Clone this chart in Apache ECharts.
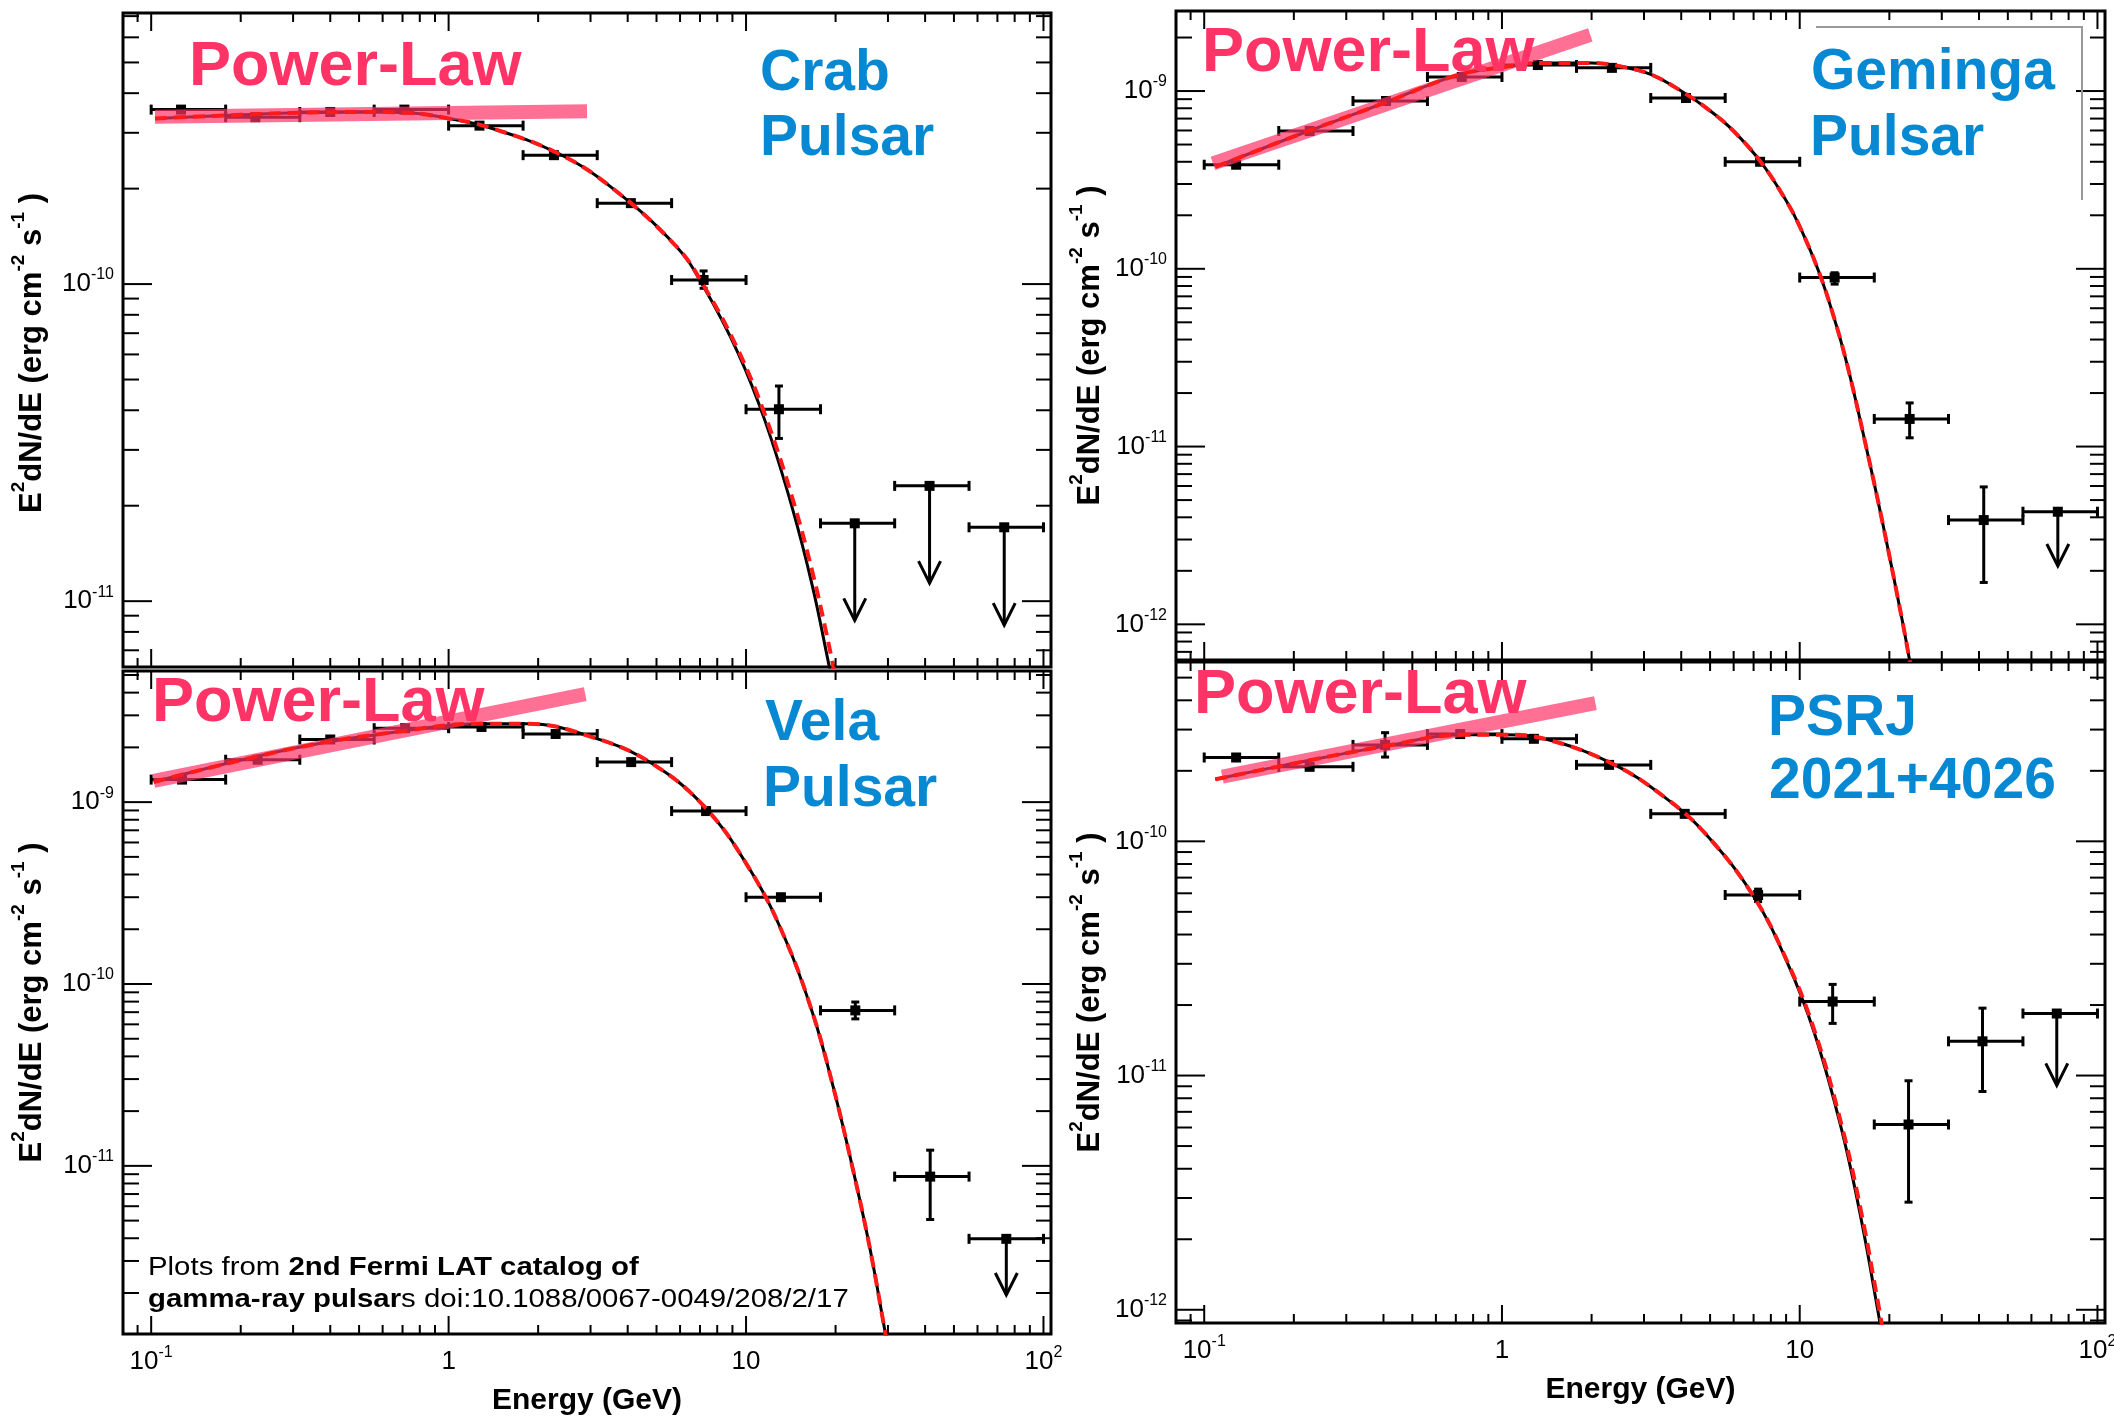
<!DOCTYPE html>
<html><head><meta charset="utf-8">
<script src="https://cdn.jsdelivr.net/npm/echarts@6/dist/echarts.min.js"></script>
<style>html,body{margin:0;padding:0;background:#fff}#c{width:2114px;height:1423px}</style>
</head><body><div id="c"></div>
<script>
// ---------- DATA ----------
const binLo = [0.1, 0.178, 0.316, 0.562, 1, 1.78, 3.16, 5.62, 10, 17.8, 31.6, 56.2];
const binHi = [0.178, 0.316, 0.562, 1, 1.78, 3.16, 5.62, 10, 17.8, 31.6, 56.2, 100];

// Crab Pulsar
const crabE = [0.126, 0.224, 0.40, 0.71, 1.27, 2.26, 4.1, 7.2, 12.9, 23.2, 41.4, 73.8];
const crabF = [3.55e-10, 3.36e-10, 3.49e-10, 3.55e-10, 3.16e-10, 2.55e-10, 1.80e-10, 1.03e-10, 4.03e-11, 1.76e-11, 2.31e-11, 1.71e-11];
const crabFlo = [0, 0, 0, 0, 0, 0, 0, 0.97e-10, 3.26e-11, 0, 0, 0];
const crabFhi = [0, 0, 0, 0, 0, 0, 0, 1.10e-10, 4.77e-11, 0, 0, 0];
const crabUL = [0, 0, 0, 0, 0, 0, 0, 0, 0, 8.7e-12, 1.14e-11, 8.4e-12];
const crabCurveE = [0.103, 0.2, 0.32, 0.5, 0.73, 1.0, 1.35, 2.3, 3.5, 5.85, 7.2, 9.4, 11.6, 14.3, 16.7, 18.8, 20.5];
const crabCurveF = [3.33e-10, 3.42e-10, 3.47e-10, 3.49e-10, 3.47e-10, 3.33e-10, 3.13e-10, 2.6e-10, 2.03e-10, 1.31e-10, 9.8e-11, 6.06e-11, 3.69e-11, 1.97e-11, 1.12e-11, 6.6e-12, 4.4e-12];
const crabDashF = [3.33e-10, 3.42e-10, 3.47e-10, 3.49e-10, 3.47e-10, 3.33e-10, 3.13e-10, 2.6e-10, 2.03e-10, 1.31e-10, 9.9e-11, 6.2e-11, 3.85e-11, 2.12e-11, 1.24e-11, 7.6e-12, 5.1e-12];
const crabBandE = [0.103, 2.92];
const crabBandF = [3.37e-10, 3.51e-10];

// Geminga Pulsar
const gemE = [0.128, 0.226, 0.408, 0.733, 1.32, 2.34, 4.15, 7.36, 13.1, 23.4, 41.5, 73.6];
const gemF = [3.85e-10, 5.96e-10, 8.79e-10, 1.20e-9, 1.40e-9, 1.35e-9, 9.14e-10, 4.0e-10, 8.93e-11, 1.43e-11, 3.86e-12, 4.3e-12];
const gemFlo = [0, 0, 0, 0, 0, 0, 0, 0, 8.2e-11, 1.12e-11, 1.72e-12, 0];
const gemFhi = [0, 0, 0, 0, 0, 0, 0, 0, 9.5e-11, 1.76e-11, 5.93e-12, 0];
const gemUL = [0, 0, 0, 0, 0, 0, 0, 0, 0, 0, 0, 2.13e-12];
const gemCurveE = [0.109, 0.2, 0.4, 0.7, 1.0, 1.4, 2.0, 2.5, 3.16, 4.0, 5.0, 6.0, 7.4, 9.0, 10.0, 11.6, 13.0, 14.5, 16.6, 19.0, 22.1, 23.3, 25];
const gemCurveF = [3.74e-10, 5.55e-10, 8.54e-10, 1.22e-9, 1.36e-9, 1.44e-9, 1.44e-9, 1.377e-9, 1.24e-9, 1.0e-9, 7.74e-10, 5.95e-10, 3.99e-10, 2.42e-10, 1.73e-10, 9.6e-11, 5.4e-11, 2.8e-11, 1.05e-11, 3.7e-12, 1.05e-12, 6.5e-13, 3.3e-13];
const gemBandE = [0.107, 1.98];
const gemBandF = [3.92e-10, 2.07e-9];

// Vela Pulsar
const velaE = [0.127, 0.228, 0.40, 0.714, 1.29, 2.29, 4.11, 7.34, 13.1, 23.3, 41.6, 75];
const velaF = [1.33e-9, 1.71e-9, 2.21e-9, 2.55e-9, 2.59e-9, 2.37e-9, 1.66e-9, 8.93e-10, 3.0e-10, 7.16e-11, 8.73e-12, 3.97e-12];
const velaFlo = [0, 0, 0, 0, 0, 0, 0, 0, 0, 6.43e-11, 5.07e-12, 0];
const velaFhi = [0, 0, 0, 0, 0, 0, 0, 0, 0, 7.96e-11, 1.22e-11, 0];
const velaUL = [0, 0, 0, 0, 0, 0, 0, 0, 0, 0, 0, 1.95e-12];
const velaCurveE = [0.102, 0.308, 0.714, 1.29, 1.84, 3.11, 4.74, 7.22, 10.4, 13.6, 16.8, 19.6, 23, 26.2, 29.4, 31];
const velaCurveF = [1.29e-9, 1.99e-9, 2.47e-9, 2.7e-9, 2.7e-9, 2.25e-9, 1.66e-9, 9.5e-10, 4.15e-10, 1.74e-10, 6.8e-11, 2.75e-11, 9.2e-12, 3.4e-12, 1.2e-12, 7.4e-13];
const velaBandE = [0.102, 2.88];
const velaBandF = [1.31e-9, 3.92e-9];

// PSR J2021+4026
const psrE = [0.128, 0.226, 0.405, 0.724, 1.28, 2.29, 4.11, 7.25, 12.9, 23.2, 41.1, 73];
const psrF = [2.28e-10, 2.08e-10, 2.58e-10, 2.87e-10, 2.74e-10, 2.12e-10, 1.31e-10, 5.9e-11, 2.07e-11, 6.18e-12, 1.4e-11, 1.84e-11];
const psrFlo = [0, 0, 2.29e-10, 2.78e-10, 0, 0, 0, 5.53e-11, 1.67e-11, 2.88e-12, 8.55e-12, 0];
const psrFhi = [0, 0, 2.91e-10, 2.96e-10, 0, 0, 0, 6.25e-11, 2.45e-11, 9.5e-12, 1.94e-11, 0];
const psrUL = [0, 0, 0, 0, 0, 0, 0, 0, 0, 0, 0, 9.08e-12];
const psrCurveE = [0.109, 0.182, 0.405, 0.743, 1.02, 1.39, 2.34, 3.55, 4.85, 6.98, 9.07, 11.2, 13.8, 16.1, 18.3, 19.5];
const psrCurveF = [1.84e-10, 2.1e-10, 2.55e-10, 2.85e-10, 2.85e-10, 2.74e-10, 2.15e-10, 1.53e-10, 1.07e-10, 5.86e-11, 3.05e-11, 1.52e-11, 5.93e-12, 2.42e-12, 9.9e-13, 6.1e-13];
const psrDashF = [1.84e-10, 2.1e-10, 2.55e-10, 2.85e-10, 2.85e-10, 2.74e-10, 2.15e-10, 1.53e-10, 1.07e-10, 5.86e-11, 3.08e-11, 1.56e-11, 6.2e-12, 2.6e-12, 1.08e-12, 6.8e-13];
const psrBandE = [0.115, 2.06];
const psrBandF = [1.89e-10, 3.89e-10];

const xRange = [0.0804, 106];

// ---------- CHART ----------
const FONT = '"Liberation Sans", Arial, Helvetica, sans-serif';
const PINK = '#ff3366';
const BLUE = '#0788d2';
const zip = (a, b) => a.map((v, i) => [v, b[i]]);

const panels = [
  {grid: {left: 123, top: 13, width: 928, height: 654}, yMin: 6.2e-12, yMax: 7.16e-10,
   E: crabE, F: crabF, Flo: crabFlo, Fhi: crabFhi, UL: crabUL,
   cE: crabCurveE, cF: crabCurveF, dF: crabDashF, bE: crabBandE, bF: crabBandF, showX: false, nameGap: 68, nameShift: 26},
  {grid: {left: 1176, top: 11, width: 929, height: 649}, yMin: 6.3e-13, yMax: 2.82e-9,
   E: gemE, F: gemF, Flo: gemFlo, Fhi: gemFhi, UL: gemUL,
   cE: gemCurveE, cF: gemCurveF, dF: gemCurveF, bE: gemBandE, bF: gemBandF, showX: false, nameGap: 63, nameShift: 20},
  {grid: {left: 123, top: 671, width: 928, height: 663}, yMin: 1.19e-12, yMax: 5.26e-9,
   E: velaE, F: velaF, Flo: velaFlo, Fhi: velaFhi, UL: velaUL,
   cE: velaCurveE, cF: velaCurveF, dF: velaCurveF, bE: velaBandE, bF: velaBandF, showX: true, nameGap: 68, nameShift: 0},
  {grid: {left: 1176, top: 662, width: 929, height: 661}, yMin: 8.78e-13, yMax: 5.83e-10,
   E: psrE, F: psrF, Flo: psrFlo, Fhi: psrFhi, UL: psrUL,
   cE: psrCurveE, cF: psrCurveF, dF: psrDashF, bE: psrBandE, bF: psrBandF, showX: true, nameGap: 63, nameShift: 0}
];

function isPow(v) { const l = Math.log10(v); return Math.abs(l - Math.round(l)) < 1e-6; }
function powLabel(v, plain) {
  if (!isPow(v)) return '';
  const e = Math.round(Math.log10(v));
  if (plain && e === 0) return '{n|1}';
  if (plain && e === 1) return '{n|10}';
  return '{n|10}{s|' + e + '}';
}
const labelRich = {
  n: {fontSize: 26, fontFamily: FONT, color: '#000', lineHeight: 34},
  s: {fontSize: 16, fontFamily: FONT, color: '#000', verticalAlign: 'top'}
};

function tickValues(lo, hi) {
  const out = [];
  for (let k = -14; k <= 3; k++) for (let m = 1; m <= 9; m++) {
    const v = m * Math.pow(10, k);
    if (v >= lo && v <= hi) out.push(v);
  }
  return out;
}

function xTickRender(params, api) {
  const v = api.value(0);
  const cs = params.coordSys;
  const px = api.coord([v, api.value(1)])[0];
  if (px < cs.x + 2 || px > cs.x + cs.width - 2) return;
  const len = isPow(v) ? 18 : 9;
  const y0 = cs.y, y1 = cs.y + cs.height;
  const st = {stroke: '#000', lineWidth: 2};
  return {type: 'group', children: [
    {type: 'line', shape: {x1: px, y1: y1, x2: px, y2: y1 - len}, style: st},
    {type: 'line', shape: {x1: px, y1: y0, x2: px, y2: y0 + len}, style: st}
  ]};
}
function yTickRender(params, api) {
  const v = api.value(1);
  const cs = params.coordSys;
  const py = api.coord([api.value(0), v])[1];
  if (py < cs.y + 2 || py > cs.y + cs.height - 2) return;
  const major = isPow(v);
  const lenL = major ? 29 : 16, lenR = major ? 29 : 15;
  const x0 = cs.x, x1 = cs.x + cs.width;
  const st = {stroke: '#000', lineWidth: 2};
  return {type: 'group', children: [
    {type: 'line', shape: {x1: x0, y1: py, x2: x0 + lenL, y2: py}, style: st},
    {type: 'line', shape: {x1: x1, y1: py, x2: x1 - lenR, y2: py}, style: st}
  ]};
}
function makeDataRender(p) {
  return function (params, api) {
    const i = params.dataIndex;
    const E = p.E[i], F = p.F[i];
    const c = api.coord([E, F]);
    const xl = api.coord([binLo[i], F])[0], xr = api.coord([binHi[i], F])[0];
    const st = {stroke: '#000', lineWidth: 3};
    const ch = [];
    ch.push({type: 'line', shape: {x1: xl, y1: c[1], x2: xr, y2: c[1]}, style: st});
    ch.push({type: 'line', shape: {x1: xl, y1: c[1] - 5, x2: xl, y2: c[1] + 5}, style: st});
    ch.push({type: 'line', shape: {x1: xr, y1: c[1] - 5, x2: xr, y2: c[1] + 5}, style: st});
    if (p.Flo[i] > 0) {
      const yl = api.coord([E, p.Flo[i]])[1], yh = api.coord([E, p.Fhi[i]])[1];
      ch.push({type: 'line', shape: {x1: c[0], y1: yl, x2: c[0], y2: yh}, style: st});
      ch.push({type: 'line', shape: {x1: c[0] - 4, y1: yl, x2: c[0] + 4, y2: yl}, style: st});
      ch.push({type: 'line', shape: {x1: c[0] - 4, y1: yh, x2: c[0] + 4, y2: yh}, style: st});
    }
    if (p.UL[i] > 0) {
      const yt = api.coord([E, p.UL[i]])[1];
      ch.push({type: 'line', shape: {x1: c[0], y1: c[1], x2: c[0], y2: yt}, style: st});
      ch.push({type: 'polyline', shape: {points: [[c[0] - 11, yt - 22], [c[0], yt], [c[0] + 11, yt - 22]]},
        style: {stroke: '#000', lineWidth: 3, fill: null}});
    }
    ch.push({type: 'rect', shape: {x: c[0] - 5, y: c[1] - 5, width: 10, height: 10}, style: {fill: '#000'}});
    return {type: 'group', children: ch};
  };
}

const grids = [], xAxes = [], yAxes = [], series = [];
panels.forEach((p, k) => {
  grids.push(Object.assign({show: true, borderColor: '#000', borderWidth: 3, backgroundColor: 'transparent',
    containLabel: false, outerBoundsMode: 'none'}, p.grid));
  xAxes.push({
    type: 'log', gridIndex: k, min: xRange[0], max: xRange[1], logBase: 10,
    axisLine: {show: false}, axisTick: {show: false}, splitLine: {show: false}, minorTick: {show: false},
    axisLabel: {show: p.showX, margin: 11, formatter: v => powLabel(v, true), rich: labelRich, showMinLabel: true, showMaxLabel: true, hideOverlap: false},
    name: p.showX ? 'Energy (GeV)' : '', nameLocation: 'middle', nameGap: 52,
    nameTextStyle: {fontFamily: FONT, fontWeight: 'bold', fontSize: 30, color: '#000', verticalAlign: 'top'}
  });
  yAxes.push({
    type: 'log', gridIndex: k, min: p.yMin, max: p.yMax, logBase: 10,
    axisLine: {show: false}, axisTick: {show: false}, splitLine: {show: false},
    axisLabel: {margin: 9, formatter: v => powLabel(v, false), rich: labelRich, hideOverlap: false},
    name: '{b|E}{s|2}{b|dN/dE (erg cm}{s|-2}{b| s}{s|-1}{b| )}' + (p.nameShift ? '{g| }' : ''),
    nameLocation: 'middle', nameRotate: 90, nameGap: p.nameGap,
    nameTextStyle: {
      rich: {
        b: {fontFamily: FONT, fontWeight: 'bold', fontSize: 31, color: '#000', lineHeight: 46},
        s: {fontFamily: FONT, fontWeight: 'bold', fontSize: 19, color: '#000', verticalAlign: 'top'},
        g: {fontSize: 10, width: p.nameShift || 1}
      }
    }
  });
  series.push({type: 'line', xAxisIndex: k, yAxisIndex: k, data: zip(p.cE, p.cF), showSymbol: false,
    smooth: 0.4, lineStyle: {color: '#000', width: 3}, z: 2, silent: true, clip: true});
  series.push({type: 'custom', xAxisIndex: k, yAxisIndex: k, data: zip(p.E, p.F),
    renderItem: makeDataRender(p), z: 3, silent: true, clip: true});
  series.push({type: 'line', xAxisIndex: k, yAxisIndex: k, data: zip(p.bE, p.bF), showSymbol: false,
    lineStyle: {color: 'rgba(255,51,102,0.7)', width: 14, cap: 'butt'}, z: 4, silent: true});
  series.push({type: 'line', xAxisIndex: k, yAxisIndex: k, data: zip(p.cE, p.dF), showSymbol: false,
    smooth: 0.4, lineStyle: {color: '#ff1a1a', width: 4, type: [12, 7]}, z: 5, silent: true, clip: true});
  series.push({type: 'custom', xAxisIndex: k, yAxisIndex: k,
    data: tickValues(xRange[0], xRange[1]).map(v => [v, p.yMin]),
    renderItem: xTickRender, z: 6, silent: true});
  series.push({type: 'custom', xAxisIndex: k, yAxisIndex: k,
    data: tickValues(p.yMin, p.yMax).map(v => [xRange[0], v]),
    renderItem: yTickRender, z: 6, silent: true});
});

function txt(x, y, s, size, color) {
  return {type: 'text', x: x, y: y, z: 100, silent: true,
    style: {text: s, font: 'bold ' + size + 'px ' + FONT, fill: color,
      textAlign: 'left', textVerticalAlign: 'middle', align: 'left', verticalAlign: 'middle'}};
}
const graphic = [
  txt(189, 68, 'Power-Law', 63, PINK),
  txt(760, 74, 'Crab', 57, BLUE),
  txt(760, 139, 'Pulsar', 57, BLUE),
  txt(1202, 54, 'Power-Law', 63, PINK),
  txt(1811, 73, 'Geminga', 57, BLUE),
  txt(1810, 139, 'Pulsar', 57, BLUE),
  txt(152, 704, 'Power-Law', 63, PINK),
  txt(765, 724, 'Vela', 57, BLUE),
  txt(763, 790, 'Pulsar', 57, BLUE),
  txt(1194, 696, 'Power-Law', 63, PINK),
  txt(1768, 719, 'PSRJ', 57, BLUE),
  txt(1769, 782, '2021+4026', 57, BLUE),
  {type: 'polyline', z: 100, silent: true, shape: {points: [[1816, 27], [2082, 27], [2082, 200]]},
   style: {stroke: '#999', lineWidth: 2, fill: null}},
  {type: 'text', x: 148, y: 1252, scaleX: 1.13, z: 100, silent: true,
   style: {
     text: '{r|Plots from }{b|2nd Fermi LAT catalog of}\n{b|gamma-ray pulsar}{r|s doi:10.1088/0067-0049/208/2/17}',
     textAlign: 'left', textVerticalAlign: 'top', align: 'left', verticalAlign: 'top',
     rich: {
       r: {fontFamily: FONT, fontSize: 26, color: '#000', lineHeight: 32},
       b: {fontFamily: FONT, fontSize: 26, fontWeight: 'bold', color: '#000', lineHeight: 32}
     }
   }}
];

const chart = echarts.init(document.getElementById('c'), null, {renderer: 'canvas'});
chart.setOption({
  animation: false,
  backgroundColor: '#fff',
  grid: grids, xAxis: xAxes, yAxis: yAxes, series: series, graphic: graphic
});
</script></body></html>
